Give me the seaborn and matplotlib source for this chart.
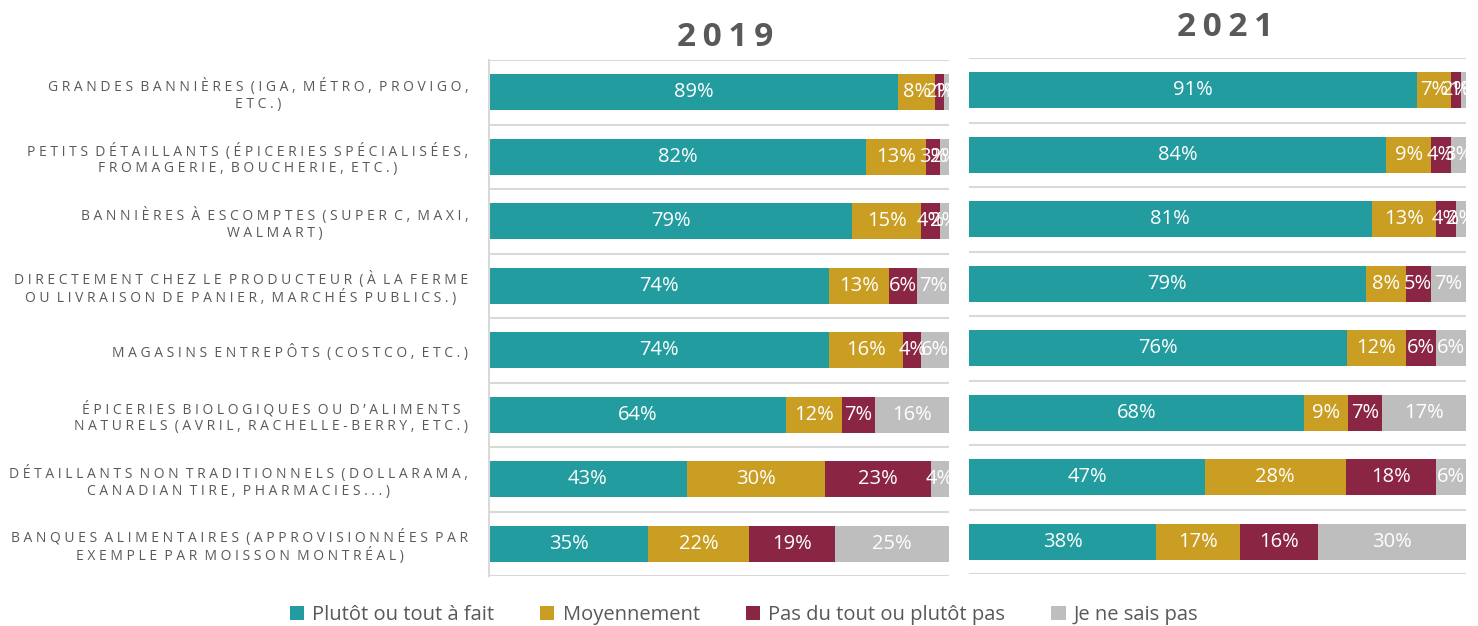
import matplotlib
matplotlib.use("Agg")
import matplotlib.pyplot as plt
import seaborn as sns
import numpy as np
from matplotlib.patches import Patch

categories = [
    "GRANDES BANNIÈRES (IGA, MÉTRO, PROVIGO,\nETC.)",
    "PETITS DÉTAILLANTS (ÉPICERIES SPÉCIALISÉES,\nFROMAGERIE, BOUCHERIE, ETC.)",
    "BANNIÈRES À ESCOMPTES (SUPER C, MAXI,\nWALMART)",
    "DIRECTEMENT CHEZ LE PRODUCTEUR (À LA FERME\nOU LIVRAISON DE PANIER, MARCHÉS PUBLICS.)",
    "MAGASINS ENTREPÔTS (COSTCO, ETC.)",
    "ÉPICERIES BIOLOGIQUES OU D’ALIMENTS\nNATURELS (AVRIL, RACHELLE-BERRY, ETC.)",
    "DÉTAILLANTS NON TRADITIONNELS (DOLLARAMA,\nCANADIAN TIRE, PHARMACIES...)",
    "BANQUES ALIMENTAIRES (APPROVISIONNÉES PAR\nEXEMPLE PAR MOISSON MONTRÉAL)",
]
series_names = ["Plutôt ou tout à fait", "Moyennement", "Pas du tout ou plutôt pas", "Je ne sais pas"]

y2019_plutot = [89, 82, 79, 74, 74, 64, 43, 35]
y2019_moyen = [8, 13, 15, 13, 16, 12, 30, 22]
y2019_pas = [2, 3, 4, 6, 4, 7, 23, 19]
y2019_nsp = [1, 2, 2, 7, 6, 16, 4, 25]

y2021_plutot = [91, 84, 81, 79, 76, 68, 47, 38]
y2021_moyen = [7, 9, 13, 8, 12, 9, 28, 17]
y2021_pas = [2, 4, 4, 5, 6, 7, 18, 16]
y2021_nsp = [1, 3, 2, 7, 6, 17, 6, 30]

colors = ["#229C9F", "#C99E22", "#8A2644", "#BEBEBE"]
text_grey = "#595959"

sns.set_theme(style="white")
plt.rcParams["font.family"] = ["Open Sans", "DejaVu Sans"]


def spaced(s):
    out = []
    for line in s.split("\n"):
        words = line.split(" ")
        out.append("  ".join(" ".join(list(w)) for w in words))
    return "\n".join(out)


fig = plt.figure(figsize=(14.78, 6.26), dpi=100)
W, H = 1478, 626
ax1 = fig.add_axes([489 / W, 1 - 576 / H, 460 / W, 516 / H])
ax2 = fig.add_axes([969 / W, 1 - 574 / H, 497 / W, 516 / H])


def draw(ax, data, show_labels):
    arr = np.array(data, dtype=float)  # 4 x n
    totals = arr.sum(axis=0)
    frac = arr / totals
    cum = np.cumsum(frac, axis=0)
    lbls = [spaced(c) for c in categories]
    for j in range(3, -1, -1):
        sns.barplot(x=list(cum[j]), y=lbls, color=colors[j], orient="h",
                    width=0.56, saturation=1, linewidth=0, errorbar=None,
                    ax=ax, zorder=2)
    for j in range(4):
        for i in range(len(categories)):
            start = cum[j - 1][i] if j > 0 else 0.0
            center = start + frac[j][i] / 2
            ax.text(center, i, f"{int(arr[j][i])}%", ha="center", va="center",
                    color="white", fontsize=14.5, zorder=3)
    for k in range(len(categories) + 1):
        ax.axhline(k - 0.5, color="#D9D9D9", lw=1.5, zorder=1)
    ax.set_xlim(0, 1)
    ax.set_ylim(len(categories) - 0.5, -0.5)
    ax.set_xlabel("")
    ax.set_ylabel("")
    ax.set_xticks([])
    for s in ["top", "right", "bottom"]:
        ax.spines[s].set_visible(False)
    if show_labels:
        ax.spines["left"].set_color("#D9D9D9")
        ax.spines["left"].set_linewidth(1.5)
        ax.tick_params(axis="y", length=0, pad=15)
        for t in ax.get_yticklabels():
            t.set_fontsize(10)
            t.set_color(text_grey)
            t.set_ha("right")
            t.set_multialignment("center")
            t.set_linespacing(1.12)
    else:
        ax.spines["left"].set_visible(False)
        ax.set_yticklabels([])
        ax.tick_params(axis="y", length=0)


draw(ax1, [y2019_plutot, y2019_moyen, y2019_pas, y2019_nsp], True)
draw(ax2, [y2021_plutot, y2021_moyen, y2021_pas, y2021_nsp], False)

fig.text(725 / W, 1 - 37 / H, "2\u20090\u20091\u20099", ha="center", va="center",
         fontsize=24, fontweight="bold", color=text_grey)
fig.text(1225 / W, 1 - 27 / H, "2\u20090\u20092\u20091", ha="center", va="center",
         fontsize=24, fontweight="bold", color=text_grey)

handles = [Patch(facecolor=c, edgecolor="none", label=n) for c, n in zip(colors, series_names)]
leg = fig.legend(handles=handles, loc="center", bbox_to_anchor=(744 / W, 1 - 615 / H),
                 ncol=4, frameon=False, fontsize=14.5, handlelength=0.7, handleheight=0.7,
                 handletextpad=0.4, columnspacing=2.3)
for t in leg.get_texts():
    t.set_color(text_grey)

fig.savefig("out.png", dpi=100)
